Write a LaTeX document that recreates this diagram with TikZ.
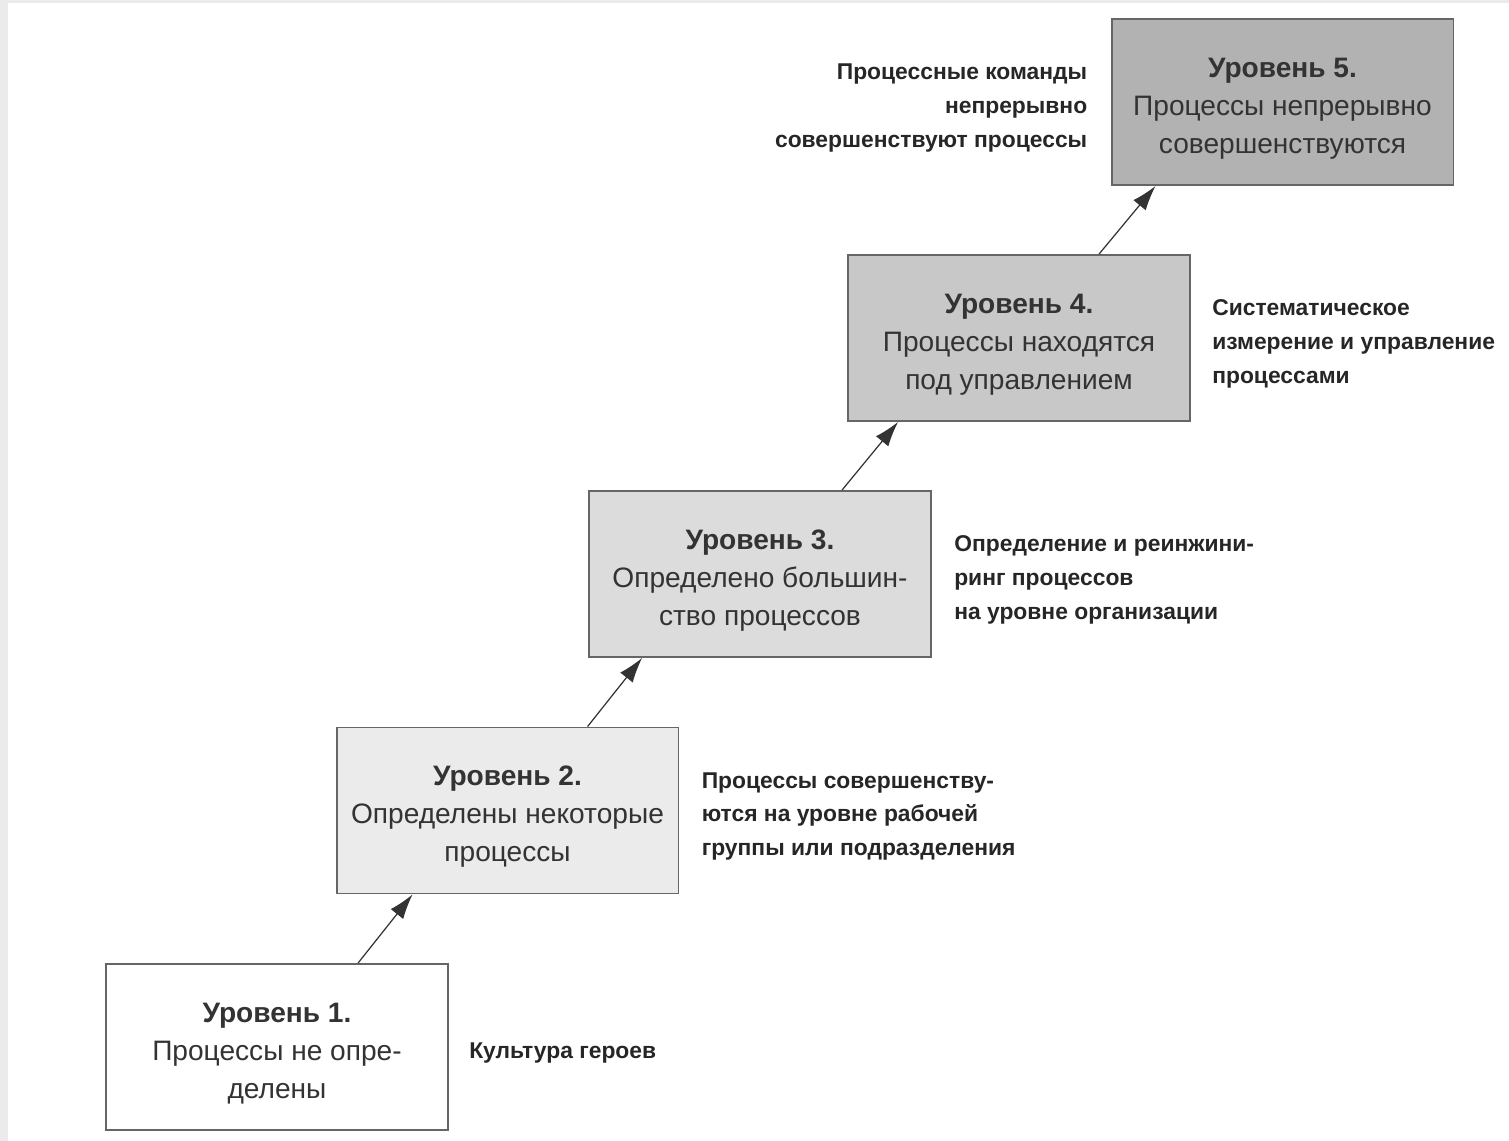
\documentclass[tikz,border=0pt]{standalone}
\usepackage{fontspec}
\setmainfont{Liberation Sans}
\usetikzlibrary{positioning,calc,arrows.meta}

\definecolor{frame}{HTML}{EBEBEB}
\definecolor{lev1}{HTML}{FFFFFF}
\definecolor{lev2}{HTML}{EBEBEB}
\definecolor{lev3}{HTML}{DCDCDC}
\definecolor{lev4}{HTML}{C8C8C8}
\definecolor{lev5}{HTML}{B2B2B2}

% title line of a level box, with a strut to push the text down a bit
\newcommand\levtitle[1]{\rule{0pt}{18.5pt}\textbf{#1}}

\begin{document}
\begin{tikzpicture}[x=0.02cm,y=-0.02cm,
  level/.style={draw=black!60,line width=1.1pt,minimum width=6.84cm,
    minimum height=3.32cm,align=center,text=black!80,
    font=\fontsize{16}{21.6}\selectfont},
  note/.style={inner sep=0pt,text=black!85,yshift=-0.12cm,
    font=\fontsize{13}{19.3}\selectfont\bfseries},
  up/.style={-{Latex[length=0.5cm,width=0.32cm]},line width=0.7pt,draw=black!80}]
  % page with grey margin
  \fill[frame] (0,0) rectangle (1509,1141);
  \fill[white] (8,3) rectangle (1509,1141);
  \useasboundingbox (0,0) rectangle (1509,1141);

  \node[level,fill=lev1] (l1) at (277,1047)
    {\levtitle{Уровень 1.}\\Процессы не опре-\\делены};
  \node[level,fill=lev2] (l2) at (507.5,810.5)
    {\levtitle{Уровень 2.}\\Определены некоторые\\процессы};
  \node[level,fill=lev3] (l3) at (760,574)
    {\levtitle{Уровень 3.}\\Определено большин-\\ство процессов};
  \node[level,fill=lev4] (l4) at (1019,338)
    {\levtitle{Уровень 4.}\\Процессы находятся\\под управлением};
  \node[level,fill=lev5] (l5) at (1282.5,102)
    {\levtitle{Уровень 5.}\\Процессы непрерывно\\совершенствуются};

  \node[note,anchor=west,right=0.4cm of l1] (n1) {Культура героев};
  \node[note,anchor=west,align=left,right=0.44cm of l2] (n2)
    {Процессы совершенству-\\ются на уровне рабочей\\группы или подразделения};
  \node[note,anchor=west,align=left,right=0.44cm of l3] (n3)
    {Определение и реинжини-\\ринг процессов\\на уровне организации};
  \node[note,anchor=west,align=left,right=0.42cm of l4] (n4)
    {Систематическое\\измерение и управление\\процессами};
  \node[note,anchor=east,align=right,left=0.46cm of l5] (n5)
    {Процессные команды\\непрерывно\\совершенствуют процессы};

  \draw[up] ($(l1.north west)+(253,0)$) -- ($(l2.south west)+(77,0)$);
  \draw[up] ($(l2.north west)+(252,0)$) -- ($(l3.south west)+(54,0)$);
  \draw[up] ($(l3.north west)+(254,0)$) -- ($(l4.south west)+(51,0)$);
  \draw[up] ($(l4.north west)+(252,0)$) -- ($(l5.south west)+(45,0)$);
\end{tikzpicture}
\end{document}
